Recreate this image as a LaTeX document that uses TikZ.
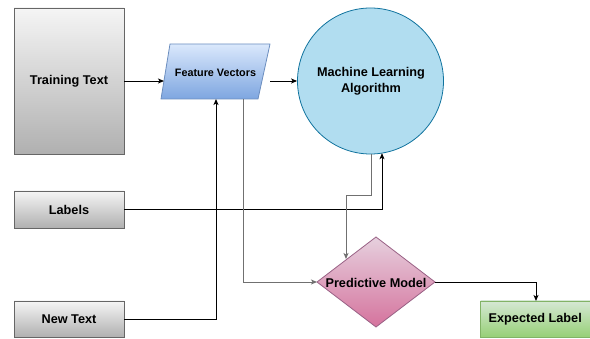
\documentclass[tikz,border=0pt]{standalone}
\usepackage{fontspec}
\setmainfont{Liberation Sans}
\usetikzlibrary{arrows.meta}
\definecolor{grayTop}{HTML}{F5F5F5}
\definecolor{grayBot}{HTML}{B0B0B0}
\definecolor{grayLine}{HTML}{666666}
\definecolor{blueTop}{HTML}{DAE8FC}
\definecolor{blueBot}{HTML}{7EA6E0}
\definecolor{blueLine}{HTML}{6C8EBF}
\definecolor{circFill}{HTML}{B1DDF0}
\definecolor{circLine}{HTML}{10739E}
\definecolor{pinkTop}{HTML}{E6D0DE}
\definecolor{pinkBot}{HTML}{D5739D}
\definecolor{pinkLine}{HTML}{996185}
\definecolor{greenTop}{HTML}{D5E8D4}
\definecolor{greenBot}{HTML}{97D077}
\definecolor{greenLine}{HTML}{82B366}
\definecolor{connGray}{HTML}{707070}
\tikzset{
  graybox/.style={draw=grayLine, top color=grayTop, bottom color=grayBot, line width=0.8pt,
    inner sep=0pt, font=\fontsize{12.7}{15}\selectfont\bfseries, text=black},
  lbl/.style={font=\fontsize{12.7}{15}\selectfont\bfseries, text=black, inner sep=0pt, align=center},
  conn/.style={line width=0.9pt, -{Stealth[length=6pt,width=5pt,inset=1.5pt]}},
}
\begin{document}
\begin{tikzpicture}[x=1pt,y=-1pt]
\useasboundingbox (0,0) rectangle (590,339);
% gray input boxes
\node[graybox, minimum width=110pt, minimum height=146pt] (tt) at (69,81) {Training Text};
\node[graybox, minimum width=110pt, minimum height=37pt] (lab) at (69,209.5) {Labels};
\node[graybox, minimum width=110pt, minimum height=36pt] (nt) at (69,319) {New Text};
% Feature Vectors parallelogram
\shade[top color=blueTop, bottom color=blueBot] (170,44) -- (270,44) -- (258,99) -- (161,99) -- cycle;
\draw[blueLine, line width=0.8pt] (170,44) -- (270,44) -- (258,99) -- (161,99) -- cycle;
\node[lbl, font=\fontsize{10.8}{13}\selectfont\bfseries] (fv) at (215.5,73) {Feature Vectors};
\coordinate (fvW) at (164,81);
\coordinate (fvE) at (270,81);
\coordinate (fvB1) at (216,99);
\coordinate (fvB2) at (243,99);
% Machine learning circle
\node[circle, draw=circLine, fill=circFill, line width=0.8pt, minimum size=146pt, inner sep=0pt] (ml) at (370.5,81) {};
\node[lbl] (mltext) at (371,81.5) {Machine Learning\\[1pt]Algorithm};
% Predictive model diamond
\shade[top color=pinkTop, bottom color=pinkBot] (376,237) -- (435,282) -- (376,327) -- (317,282) -- cycle;
\draw[pinkLine, line width=0.8pt] (376,237) -- (435,282) -- (376,327) -- (317,282) -- cycle;
\node[lbl] (pm) at (376,283) {Predictive Model};
\coordinate (pmW) at (317,282);
\coordinate (pmE) at (435,282);
\coordinate (pmN) at (346,259);
% Expected label
\node[draw=greenLine, top color=greenTop, bottom color=greenBot, line width=0.8pt, minimum width=109.5pt, minimum height=36pt, inner sep=0pt, font=\fontsize{12.7}{15}\selectfont\bfseries, text=black] (el) at (535.25,319) {Expected Label};
% connectors
\draw[conn] (tt.east) -- (fvW);
\draw[conn] (fvE) -- (ml.west);
\draw[conn] (lab.east) -- (382,209.5) -- (382,153.2);
\draw[conn, connGray] (371,154) -- (371,195) -- (346,195) -- (pmN);
\draw[conn, connGray] (fvB2) -- (243,282) -- (pmW);
\draw[conn] (nt.east) -- (216,319) -- (fvB1);
\draw[conn] (pmE) -- (536,282) -- (536,301);
\end{tikzpicture}
\end{document}
